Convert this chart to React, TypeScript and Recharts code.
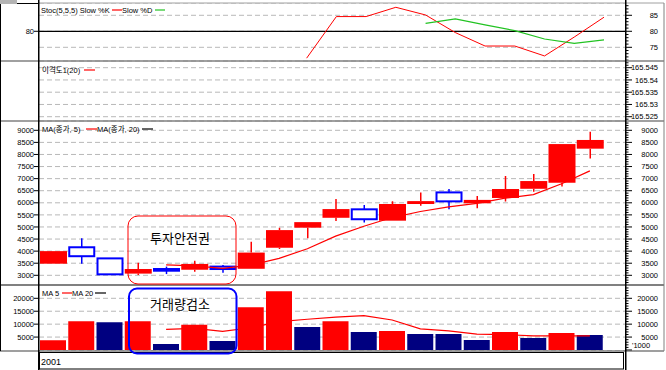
import React from 'react';
import { ComposedChart, Bar, Line, XAxis, YAxis, CartesianGrid, ReferenceLine, Cell } from 'recharts';

// ---- data ----
const days = ['1', '2', '3', '4', '5', '6', '7', '8', '9', '10', '11', '12', '13', '14', '15', '16', '17', '18', '19', '20'];
const openPrice = [3480, 4160, 3700, 3070, 3260, 3230, 3360, 3270, 4140, 4970, 5380, 5730, 5260, 5950, 6430, 5980, 6200, 6580, 6830, 8240];
const closePrice = [4000, 3790, 3040, 3260, 3190, 3470, 3260, 3940, 4870, 5200, 5740, 5320, 5950, 6070, 6060, 6120, 6570, 6900, 8430, 8600];
const highPrice = [4000, 4530, 3700, 3520, 3360, 3600, 3430, 4390, 4970, 5210, 6160, 5910, 6060, 6430, 6570, 6280, 7110, 7190, 8430, 8940];
const lowPrice = [3480, 3480, 3040, 3010, 3050, 3150, 3110, 3270, 4090, 4530, 5250, 5180, 5260, 5880, 5730, 5770, 6050, 6460, 6670, 7830];
const priceMa5 = [null, null, null, null, 3430, 3390, 3290, 3420, 3700, 4100, 4620, 5030, 5390, 5640, 5830, 5980, 6190, 6340, 6790, 7320];

const volume = [3800, 11150, 10770, 11150, 2300, 9740, 3460, 16540, 22690, 8850, 11150, 6920, 7310, 6150, 6150, 3850, 6920, 4620, 6540, 5770];
const volumeDir = ['up', 'up', 'down', 'up', 'down', 'up', 'down', 'up', 'up', 'down', 'up', 'down', 'up', 'down', 'down', 'down', 'up', 'down', 'up', 'down'];
const volumeMa5 = [null, null, null, null, 8000, 8350, 7200, 8600, 11000, 11900, 12700, 13300, 11600, 8200, 7400, 6150, 5950, 5450, 5450, 5450];

const slowK = [null, null, null, null, null, null, null, null, null, 71.6, 84.6, 84.6, 87.5, 85.1, 79.6, 75.4, 75.4, 72.3, 78.2, 84.4];
const slowD = [null, null, null, null, null, null, null, null, null, null, null, null, null, 82.5, 83.9, 82.0, 80.2, 77.6, 76.2, 77.3];

// ---- tick labels ----
const stochLabels = [85, 80, 75];
const stochLeftLabels = [80];
const priceLabels = [9000, 8500, 8000, 7500, 7000, 6500, 6000, 5500, 5000, 4500, 4000, 3500, 3000];
const volumeLabels = [20000, 15000, 10000, 5000];
const dispLabels = ['165.545', '165.54', '165.535', '165.53', '165.525'];

const rows = days.map((d, i) => ({
  day: d,
  open: openPrice[i],
  close: closePrice[i],
  high: highPrice[i],
  low: lowPrice[i],
  ma5: priceMa5[i],
  vol: volume[i],
  dir: volumeDir[i],
  vma5: volumeMa5[i],
  k: slowK[i],
  d: slowD[i],
}));

// ---- layout ----
const W = 666;
const PL = 39;
const PR = 626;
const RW = 40;
const FONT = "'Liberation Sans', Arial, 'Noto Sans CJK KR', sans-serif";
const KFONT = "'Noto Sans CJK KR', 'Liberation Sans', sans-serif";
const TICK_FS = 7.5;

const stepTicks = (from: number, to: number, step: number) => {
  const t: number[] = [];
  for (let k = Math.round(from / step); k * step <= to + 1e-9; k++) t.push(k * step);
  return t;
};
const dispMinor = (() => {
  const t: number[] = [];
  for (let k = 165524; k <= 165547; k++) t.push(k / 1000);
  return t;
})();

const leftTick = (labels: (number | string)[]) => (p: any) => {
  const v = p.payload.value;
  const found = labels.find((l) => Math.abs(Number(l) - v) < 1e-7);
  if (found === undefined) return <g />;
  return (
    <g>
      <line x1={PL - 5} x2={PL} y1={p.y} y2={p.y} stroke="#000" strokeWidth={1} />
      <text x={PL - 5} y={p.y + 2.7} textAnchor="end" fontSize={TICK_FS} fontFamily={FONT} fill="#000">
        {String(found)}
      </text>
    </g>
  );
};

const rightTick = (isMajor: (v: number) => boolean, labels: (number | string)[]) => (p: any) => {
  const v = p.payload.value;
  const major = isMajor(v);
  const found = labels.find((l) => Math.abs(Number(l) - v) < 1e-7);
  return (
    <g>
      <line x1={PR} x2={PR + (major ? 6 : 2.5)} y1={p.y} y2={p.y} stroke="#000" strokeWidth={1} />
      {found !== undefined && (
        <text x={658} y={p.y + 2.7} textAnchor="end" fontSize={TICK_FS} fontFamily={FONT} fill="#000">
          {String(found)}
        </text>
      )}
    </g>
  );
};

const Candle = (props: any) => {
  const { x, y, width, height } = props;
  const e = props.payload || props;
  const { open, close, high, low } = e;
  if (x == null || y == null || !(high > low)) return <g />;
  const ppu = height / (high - low);
  const top = y + (high - Math.max(open, close)) * ppu;
  const bot = y + (high - Math.min(open, close)) * ppu;
  const cx = x + width / 2;
  const up = close >= open;
  const color = up ? '#ff0000' : '#0000ff';
  return (
    <g>
      {top > y + 0.5 && <line x1={cx} x2={cx} y1={y} y2={top} stroke={color} strokeWidth={1.5} />}
      {y + height > bot + 0.5 && <line x1={cx} x2={cx} y1={bot} y2={y + height} stroke={color} strokeWidth={1.5} />}
      {up ? (
        <rect x={x} y={top} width={width} height={Math.max(bot - top, 1.5)} fill={color} />
      ) : (
        <rect x={x + 1} y={top} width={width - 2} height={Math.max(bot - top, 1)} fill="#fff" stroke={color} strokeWidth={2} />
      )}
    </g>
  );
};

const xAxis = <XAxis dataKey="day" hide padding={{ left: 0, right: 22 }} />;
const gridProps = { vertical: false, stroke: '#b8b8b8', strokeDasharray: '5 3' } as any;

const panel = (top: number, height: number, children: React.ReactNode) => (
  <div style={{ position: 'absolute', left: 0, top, width: W, height }}>
    <ComposedChart width={W} height={height} data={rows} margin={{ top: 0, right: 0, bottom: 0, left: 0 }}>
      {children}
    </ComposedChart>
  </div>
);

const stochDomain: [number, number] = [70.72, 88.84];
const dispDomain: [number, number] = [165.52325, 165.54773];
const priceDomain: [number, number] = [2598.6, 9384.8];
const volDomain: [number, number] = [-387, 25145];

export default function App() {
  return (
    <div style={{ position: 'absolute', left: 0, top: 0, width: W, height: 370, background: '#fff', overflow: 'hidden', fontFamily: FONT }}>
      {panel(3, 58, [
        xAxis,
        <YAxis key="l" yAxisId={0} width={PL} domain={stochDomain} type="number" allowDataOverflow ticks={[75, 80, 85]} interval={0} tick={leftTick(stochLeftLabels)} tickLine={false} axisLine={false} tickSize={0} tickMargin={0} />,
        <YAxis key="r" yAxisId="r" orientation="right" width={RW} domain={stochDomain} type="number" allowDataOverflow ticks={stepTicks(71, 88, 1)} interval={0} tick={rightTick((v) => v % 5 === 0, stochLabels)} tickLine={false} axisLine={false} tickSize={0} tickMargin={0} />,
        <CartesianGrid key="g" {...gridProps} />,
        <ReferenceLine key="rl" y={80} stroke="#000" strokeWidth={1.2} />,
        <Line key="k" dataKey="k" stroke="#ff0000" strokeWidth={1} dot={false} isAnimationActive={false} />,
        <Line key="d" dataKey="d" stroke="#22c322" strokeWidth={1.2} dot={false} isAnimationActive={false} />,
      ])}
      {panel(61, 60, [
        xAxis,
        <YAxis key="l" yAxisId={0} width={PL} domain={dispDomain} type="number" allowDataOverflow ticks={dispLabels.map(Number)} interval={0} tick={leftTick([])} tickLine={false} axisLine={false} tickSize={0} tickMargin={0} />,
        <YAxis key="r" yAxisId="r" orientation="right" width={RW} domain={dispDomain} type="number" allowDataOverflow ticks={dispMinor} interval={0} tick={rightTick((v) => Math.round(v * 1000) % 5 === 0, dispLabels)} tickLine={false} axisLine={false} tickSize={0} tickMargin={0} />,
        <CartesianGrid key="g" {...gridProps} />,
      ])}
      {panel(121, 164, [
        xAxis,
        <YAxis key="l" yAxisId={0} width={PL} domain={priceDomain} type="number" allowDataOverflow ticks={priceLabels} interval={0} tick={leftTick(priceLabels)} tickLine={false} axisLine={false} tickSize={0} tickMargin={0} />,
        <YAxis key="r" yAxisId="r" orientation="right" width={RW} domain={priceDomain} type="number" allowDataOverflow ticks={stepTicks(2600, 9300, 100)} interval={0} tick={rightTick((v) => v % 500 === 0, priceLabels)} tickLine={false} axisLine={false} tickSize={0} tickMargin={0} />,
        <CartesianGrid key="g" {...gridProps} />,
        <Bar key="c" dataKey={(r: any) => [r.low, r.high]} barSize={27} shape={(p: any) => <Candle {...p} />} isAnimationActive={false} />,
        <Line key="m" dataKey="ma5" stroke="#ff0000" strokeWidth={1.2} dot={false} isAnimationActive={false} />,
      ])}
      {panel(285, 66, [
        xAxis,
        <YAxis key="l" yAxisId={0} width={PL} domain={volDomain} type="number" allowDataOverflow ticks={volumeLabels} interval={0} tick={leftTick(volumeLabels)} tickLine={false} axisLine={false} tickSize={0} tickMargin={0} />,
        <YAxis key="r" yAxisId="r" orientation="right" width={RW} domain={volDomain} type="number" allowDataOverflow ticks={stepTicks(0, 24000, 1000)} interval={0} tick={rightTick((v) => v % 5000 === 0, volumeLabels)} tickLine={false} axisLine={false} tickSize={0} tickMargin={0} />,
        <CartesianGrid key="g" {...gridProps} />,
        <Bar key="v" dataKey="vol" barSize={26} isAnimationActive={false}>
          {rows.map((r, i) => (
            <Cell key={i} fill={r.dir === 'up' ? '#ff0000' : '#000080'} />
          ))}
        </Bar>,
        <Line key="vm" dataKey="vma5" stroke="#ff0000" strokeWidth={1.2} dot={false} isAnimationActive={false} />,
      ])}
      <svg width={W} height={370} style={{ position: 'absolute', left: 0, top: 0, pointerEvents: 'none' }}>
        {/* frame */}
        <rect x={0} y={0} width={17} height={4} fill="#b4b4b4" />
        <line x1={17} x2={PL} y1={3.5} y2={3.5} stroke="#000" strokeWidth={1} />
        <line x1={PL} x2={664} y1={3} y2={3} stroke="#a0a0a0" strokeWidth={1} />
        <line x1={0} x2={664} y1={61} y2={61} stroke="#808080" strokeWidth={1.5} />
        <line x1={0} x2={664} y1={121} y2={121} stroke="#808080" strokeWidth={1.5} />
        <line x1={0} x2={664} y1={285} y2={285} stroke="#808080" strokeWidth={2} />
        <line x1={0} x2={664} y1={351} y2={351} stroke="#404040" strokeWidth={1.2} />
        <line x1={0.5} x2={0.5} y1={4} y2={351} stroke="#000" strokeWidth={1} />
        <line x1={PL - 0.25} x2={PL - 0.25} y1={0} y2={370} stroke="#000" strokeWidth={1.5} />
        <line x1={PR - 0.25} x2={PR - 0.25} y1={0} y2={370} stroke="#000" strokeWidth={1.5} />
        <line x1={664} x2={664} y1={3} y2={351} stroke="#808080" strokeWidth={1} />
        {/* date bar */}
        <rect x={PL + 0.5} y={352.5} width={584} height={16.5} fill="#fff" stroke="#000" strokeWidth={1} />
        <text x={41} y={364.5} fontSize={9} fontFamily={FONT} fill="#000">2001</text>
        <text x={632} y={348} fontSize={TICK_FS} fontFamily={FONT} fill="#000">'1000</text>
        {/* legends */}
        <text x={41} y={13} fontSize={TICK_FS} fontFamily={FONT} fill="#000">Stoc(5,5,5) Slow %K</text>
        <line x1={112} x2={122} y1={10} y2={10} stroke="#ff0000" strokeWidth={1.2} />
        <text x={122} y={13} fontSize={TICK_FS} fontFamily={FONT} fill="#000">Slow %D</text>
        <line x1={155} x2={165} y1={10} y2={10} stroke="#22c322" strokeWidth={1.2} />

        <text x={42} y={73} fontSize={TICK_FS} fontFamily={FONT} fill="#000">이격도1(20)</text>
        <line x1={84} x2={95} y1={70} y2={70} stroke="#ff0000" strokeWidth={1.2} />

        <text x={42} y={131.5} fontSize={TICK_FS} fontFamily={FONT} fill="#000">MA(종가, 5)</text>
        <line x1={86} x2={97} y1={129} y2={129} stroke="#ff0000" strokeWidth={1.2} />
        <text x={97} y={131.5} fontSize={TICK_FS} fontFamily={FONT} fill="#000">MA(종가, 20)</text>
        <line x1={142} x2={153} y1={129} y2={129} stroke="#000" strokeWidth={1.2} />

        <text x={42} y={296} fontSize={TICK_FS} fontFamily={FONT} fill="#000">MA 5</text>
        <line x1={62} x2={72} y1={293} y2={293} stroke="#ff0000" strokeWidth={1.2} />
        <text x={72} y={296} fontSize={TICK_FS} fontFamily={FONT} fill="#000">MA 20</text>
        <line x1={95} x2={106} y1={293} y2={293} stroke="#000" strokeWidth={1.2} />

        {/* annotations */}
        <rect x={128} y={216} width={108} height={68} rx={10} ry={10} fill="none" stroke="#ff0000" strokeWidth={1} />
        <text x={180} y={242.5} textAnchor="middle" fontSize={13} fontFamily={KFONT} fill="#000">투자안전권</text>
        <rect x={129} y={288.5} width={107.5} height={65} rx={8} ry={8} fill="none" stroke="#0000ff" strokeWidth={2} />
        <text x={180} y={309} textAnchor="middle" fontSize={13} fontFamily={KFONT} fill="#000">거래량검소</text>
      </svg>
    </div>
  );
}
